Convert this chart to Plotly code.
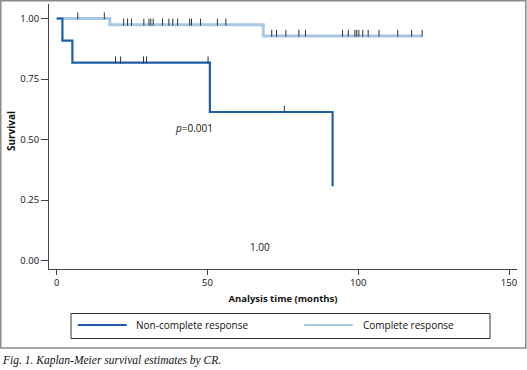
import numpy as np
import plotly.graph_objects as go

# ---- data ----
ncr_times = [0, 1.9, 5.2, 50.8, 91.5]
ncr_surv = [1.0, 0.909, 0.818, 0.614, 0.307]
ncr_censor = [19.5, 21.2, 28.8, 29.8, 50.2, 75.5]

cr_times = [0, 17.6, 68.5, 121.2]
cr_surv = [1.0, 0.974, 0.928, 0.928]
cr_censor = [7.0, 15.8, 22.2, 23.5, 24.8, 28.9, 30.6, 31.2, 32.0, 35.1, 37.2,
             38.5, 40.1, 44.1, 44.7, 47.7, 53.3, 56.1, 71.3, 72.9, 76.0, 80.3,
             82.5, 94.8, 96.7, 98.9, 99.5, 100.2, 101.5, 103.3, 106.9, 113.1,
             117.7, 121.2]

x_ticks = [0, 50, 100, 150]
y_ticks = [0, 0.25, 0.5, 0.75, 1.0]
series_names = ["Non-complete response", "Complete response"]
p_text = "<i>p</i>=0.001"
p_pos = (45.4, 0.548)
hr_text = "1.00"
hr_pos = (67.4, 0.055)

DARK = "#1f5fa8"
LIGHT = "#a9c7e4"
AX = "#444444"
FONT = "Open Sans"

W, H = 527, 370
L, R, T, B = 49, 10, 4, 101


def step_at(times, surv, t):
    i = np.searchsorted(np.array(times), t, side="right") - 1
    return np.array(surv)[i]


def px(x):
    return (x - L) / (W - L - R)


def py(y):
    return (H - B - y) / (H - T - B)


fig = go.Figure()
fig.add_trace(go.Scatter(x=cr_times, y=cr_surv, mode="lines", line_shape="hv",
                         line=dict(color=LIGHT, width=3), name=series_names[1],
                         showlegend=False))
fig.add_trace(go.Scatter(x=ncr_times, y=ncr_surv, mode="lines", line_shape="hv",
                         line=dict(color=DARK, width=2.2), name=series_names[0],
                         showlegend=False))

tick_off = 0.011
for cens, times, surv in [(cr_censor, cr_times, cr_surv), (ncr_censor, ncr_times, ncr_surv)]:
    ys = [step_at(times, surv, t) + tick_off for t in cens]
    fig.add_trace(go.Scatter(x=cens, y=ys, mode="markers", showlegend=False,
                             marker=dict(symbol="line-ns", size=5,
                                         line=dict(color="#333333", width=1))))

fig.add_annotation(x=p_pos[0], y=p_pos[1], text=p_text, showarrow=False,
                   font=dict(family=FONT, size=10, color="#111"))
fig.add_annotation(x=hr_pos[0], y=hr_pos[1], text=hr_text, showarrow=False,
                   font=dict(family=FONT, size=10, color="#111"))

shapes = []
# outer frame
shapes.append(dict(type="rect", xref="paper", yref="paper",
                   x0=px(0.8), x1=px(525.8), y0=py(0.8), y1=py(348),
                   line=dict(color="#8a8a8a", width=1.5)))
# legend box
shapes.append(dict(type="rect", xref="paper", yref="paper",
                   x0=px(71), x1=px(490), y0=py(313.5), y1=py(338.5),
                   line=dict(color="#333333", width=1)))
shapes.append(dict(type="line", xref="paper", yref="paper",
                   x0=px(77.7), x1=px(126.7), y0=py(325), y1=py(325),
                   line=dict(color=DARK, width=2)))
shapes.append(dict(type="line", xref="paper", yref="paper",
                   x0=px(304.3), x1=px(352.7), y0=py(325), y1=py(325),
                   line=dict(color=LIGHT, width=2)))
fig.update_layout(shapes=shapes)

fig.add_annotation(xref="paper", yref="paper", x=px(134), y=py(325),
                   xanchor="left", yanchor="middle", text=series_names[0],
                   showarrow=False, font=dict(family=FONT, size=10, color="#111"))
fig.add_annotation(xref="paper", yref="paper", x=px(360.5), y=py(325),
                   xanchor="left", yanchor="middle", text=series_names[1],
                   showarrow=False, font=dict(family=FONT, size=10, color="#111"))
fig.add_annotation(xref="paper", yref="paper", x=px(0), y=py(360.5),
                   xanchor="left", yanchor="middle",
                   text="<i>Fig. 1. Kaplan-Meier survival estimates by CR.</i>",
                   showarrow=False,
                   font=dict(family="Liberation Serif", size=11.5, color="#111"))
# y-axis title (placed slightly above plot centre, as in the reference)
fig.add_annotation(xref="paper", yref="paper", x=px(10.5), y=py(131.5),
                   xanchor="center", yanchor="middle", textangle=-90,
                   text="<b>Survival</b>", showarrow=False,
                   font=dict(family=FONT, size=10, color="#111"))

fig.update_xaxes(range=[-2.55, 152.65], tickvals=x_ticks, showline=True,
                 linecolor=AX, linewidth=1, ticks="outside", ticklen=5,
                 tickcolor=AX, showgrid=False, zeroline=False,
                 tickfont=dict(family=FONT, size=9.5, color="#111"),
                 title=dict(text="<b>Analysis time (months)</b>", standoff=6,
                            font=dict(family=FONT, size=9.5, color="#111")))
fig.update_yaxes(range=[-0.0343, 1.0599], tickvals=y_ticks, tickformat=".2f",
                 showline=True, linecolor=AX, linewidth=1, ticks="outside",
                 ticklen=7, tickcolor=AX, showgrid=False, zeroline=False,
                 tickfont=dict(family=FONT, size=9.5, color="#111"))

fig.update_layout(width=W, height=H, margin=dict(l=L, r=R, t=T, b=B),
                  paper_bgcolor="white", plot_bgcolor="white", showlegend=False)

fig.write_html("out.html", config={"displayModeBar": False},
               post_script="document.body.style.margin='0';document.body.style.overflow='hidden';")
